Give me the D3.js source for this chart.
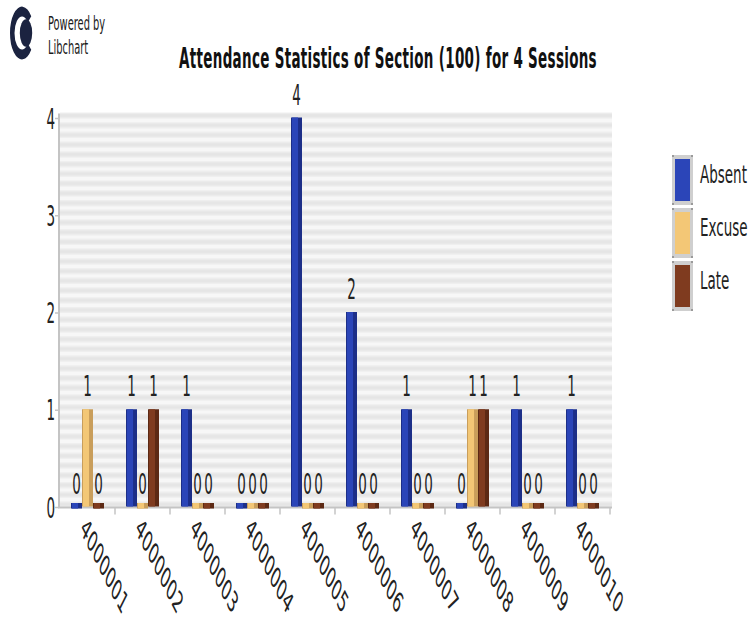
<!DOCTYPE html>
<html>
<head>
<meta charset="utf-8">
<script src="https://cdn.jsdelivr.net/npm/d3@7"></script>
<style>
  html, body { margin: 0; padding: 0; background: #fff; }
  svg { display: block; }
  text { font-family: "DejaVu Sans Condensed", "DejaVu Sans", sans-serif; fill: #222; }
</style>
</head>
<body>
<svg id="chart" width="749" height="622"></svg>
<script>
// Students (category axis) and the three attendance series
const categories = ["4000001", "4000002", "4000003", "4000004", "4000005",
                    "4000006", "4000007", "4000008", "4000009", "4000010"];
const seriesNames = ["Absent", "Excuse", "Late"];
const absentValues = [0, 1, 1, 0, 4, 2, 1, 0, 1, 1];
const excuseValues = [1, 0, 0, 0, 0, 0, 0, 1, 0, 0];
const lateValues   = [0, 1, 0, 0, 0, 0, 0, 1, 0, 0];
const yTickValues  = [0, 1, 2, 3, 4];
const chartTitle = "Attendance Statistics of Section (100) for 4 Sessions";

const seriesValues = [absentValues, excuseValues, lateValues];
const fills   = ["#2b45b8", "#f3c776", "#7f3b1f"];
const shades  = ["#1d2f88", "#c99e5b", "#5c2914"];

const SY = 1.87;          // vertical stretch applied to all lettering
const FONT = 15;

const svg = d3.select("#chart");

// plain text helper: position, vertical stretch, optional rotation
function label(parent, x, y, str, opt = {}) {
  const t = parent.append("text")
    .attr("transform", `translate(${x},${y}) scale(1,${opt.sy || SY}) rotate(${opt.rotate || 0})`)
    .attr("text-anchor", opt.anchor || "start")
    .attr("font-size", opt.size || FONT)
    .text(str);
  if (opt.bold) t.attr("font-weight", "bold");
  if (opt.fill) t.style("fill", opt.fill);
  if (opt.spacing) t.attr("letter-spacing", opt.spacing);
  return t;
}

// ---- scales ----
const x = d3.scaleBand().domain(categories).range([60, 610]);
const xs = d3.scaleBand().domain(seriesNames)
  .range([x.bandwidth() * 0.2, x.bandwidth() * 0.8]);
const y = d3.scaleLinear().domain([0, 4]).range([506.5, 117.5]);

// ---- striped plot background ----
const defs = svg.append("defs");
defs.append("filter").attr("id", "soft")
  .append("feGaussianBlur").attr("stdDeviation", "0 1");

const plot = svg.append("g");
plot.append("rect")
  .attr("x", 60).attr("y", y(4) - 4)
  .attr("width", 552).attr("height", y(0) - y(4) + 4)
  .attr("fill", "#f7f7f7");
const stripeSteps = d3.range(0, 41).map(i => i / 10);
plot.selectAll("rect.stripe").data(stripeSteps).join("rect")
  .attr("class", "stripe")
  .attr("x", 60)
  .attr("width", 552)
  .attr("y", d => y(d) - 4.5)
  .attr("height", 5)
  .attr("fill", "#e5e5e5")
  .attr("filter", "url(#soft)");

// ---- axes ----
const axisColor = "#c4c4c4";
svg.append("line")
  .attr("x1", 59).attr("x2", 59).attr("y1", y(4) - 4).attr("y2", y(0) + 1)
  .attr("stroke", axisColor).attr("stroke-width", 2);
svg.append("line")
  .attr("x1", 58).attr("x2", 612).attr("y1", y(0) + 1).attr("y2", y(0) + 1)
  .attr("stroke", axisColor).attr("stroke-width", 2);

// y ticks and labels
svg.selectAll("line.ytick").data(yTickValues).join("line")
  .attr("class", "ytick")
  .attr("x1", 55).attr("x2", 59)
  .attr("y1", d => y(d) + 1).attr("y2", d => y(d) + 1)
  .attr("stroke", axisColor).attr("stroke-width", 1.5);
yTickValues.forEach(v => label(svg, 55, y(v) + 11, String(v), { anchor: "end" }));

// x category boundary ticks
const boundaries = categories.map(c => x(c) + x.bandwidth());
svg.selectAll("line.xtick").data(boundaries).join("line")
  .attr("class", "xtick")
  .attr("x1", d => d).attr("x2", d => d)
  .attr("y1", y(0) + 1).attr("y2", y(0) + 8)
  .attr("stroke", axisColor).attr("stroke-width", 1.5);

// rotated category labels
categories.forEach(c => {
  label(svg, x(c) + x.bandwidth() / 2 - 8, y(0) + 24, c, { rotate: 45, sy: 2.0 });
});

// ---- bars ----
const bars = svg.append("g");
categories.forEach((c, ci) => {
  seriesNames.forEach((s, si) => {
    const v = seriesValues[si][ci];
    const bx = x(c) + xs(s);
    const bw = xs.bandwidth();
    const top = v === 0 ? y(0) - 3.5 : y(v);
    const bottom = v === 0 ? y(0) + 2 : y(0);
    bars.append("rect")
      .attr("x", bx).attr("y", top)
      .attr("width", bw).attr("height", bottom - top)
      .attr("fill", shades[si]);
    bars.append("rect")
      .attr("x", bx + 1).attr("y", top)
      .attr("width", bw * 0.55).attr("height", bottom - top)
      .attr("fill", fills[si]);
    // value label above the bar
    label(svg, bx + bw / 2, y(v) - 13, String(v), { anchor: "middle" });
  });
});

// ---- title ----
label(svg, 388, 68, chartTitle, { anchor: "middle", bold: true, fill: "#111", spacing: 0.3 });

// ---- legend ----
const legend = svg.append("g");
seriesNames.forEach((s, i) => {
  const ly = 155 + i * 53;
  legend.append("rect")
    .attr("x", 672).attr("y", ly).attr("width", 21).attr("height", 50)
    .attr("fill", "#cfcfcf");
  [[672, ly], [691, ly], [672, ly + 48], [691, ly + 48]].forEach(p => {
    legend.append("rect").attr("x", p[0]).attr("y", p[1])
      .attr("width", 2).attr("height", 2).attr("fill", "#9a9a9a");
  });
  legend.append("rect")
    .attr("x", 675).attr("y", ly + 4).attr("width", 15).attr("height", 42)
    .attr("fill", fills[i]);
  label(legend, 700, ly + 28, s, { sy: 1.65 });
});

// ---- "Powered by Libchart" badge ----
const logo = svg.append("g").attr("transform", "translate(22,33) scale(1,2.2)");
logo.append("path")
  .attr("d", d3.arc().innerRadius(7.5).outerRadius(12)
    .startAngle(Math.PI * 0.72).endAngle(Math.PI * 2.28)())
  .attr("fill", "#1b2340");
logo.append("circle").attr("cx", 4).attr("cy", 0).attr("r", 6.2).attr("fill", "#1b2340");
label(svg, 48, 30, "Powered by", { size: 11, sy: 1.75, fill: "#1b1b1b" });
label(svg, 48, 54, "Libchart", { size: 11, sy: 1.75, fill: "#1b1b1b" });
</script>
</body>
</html>
